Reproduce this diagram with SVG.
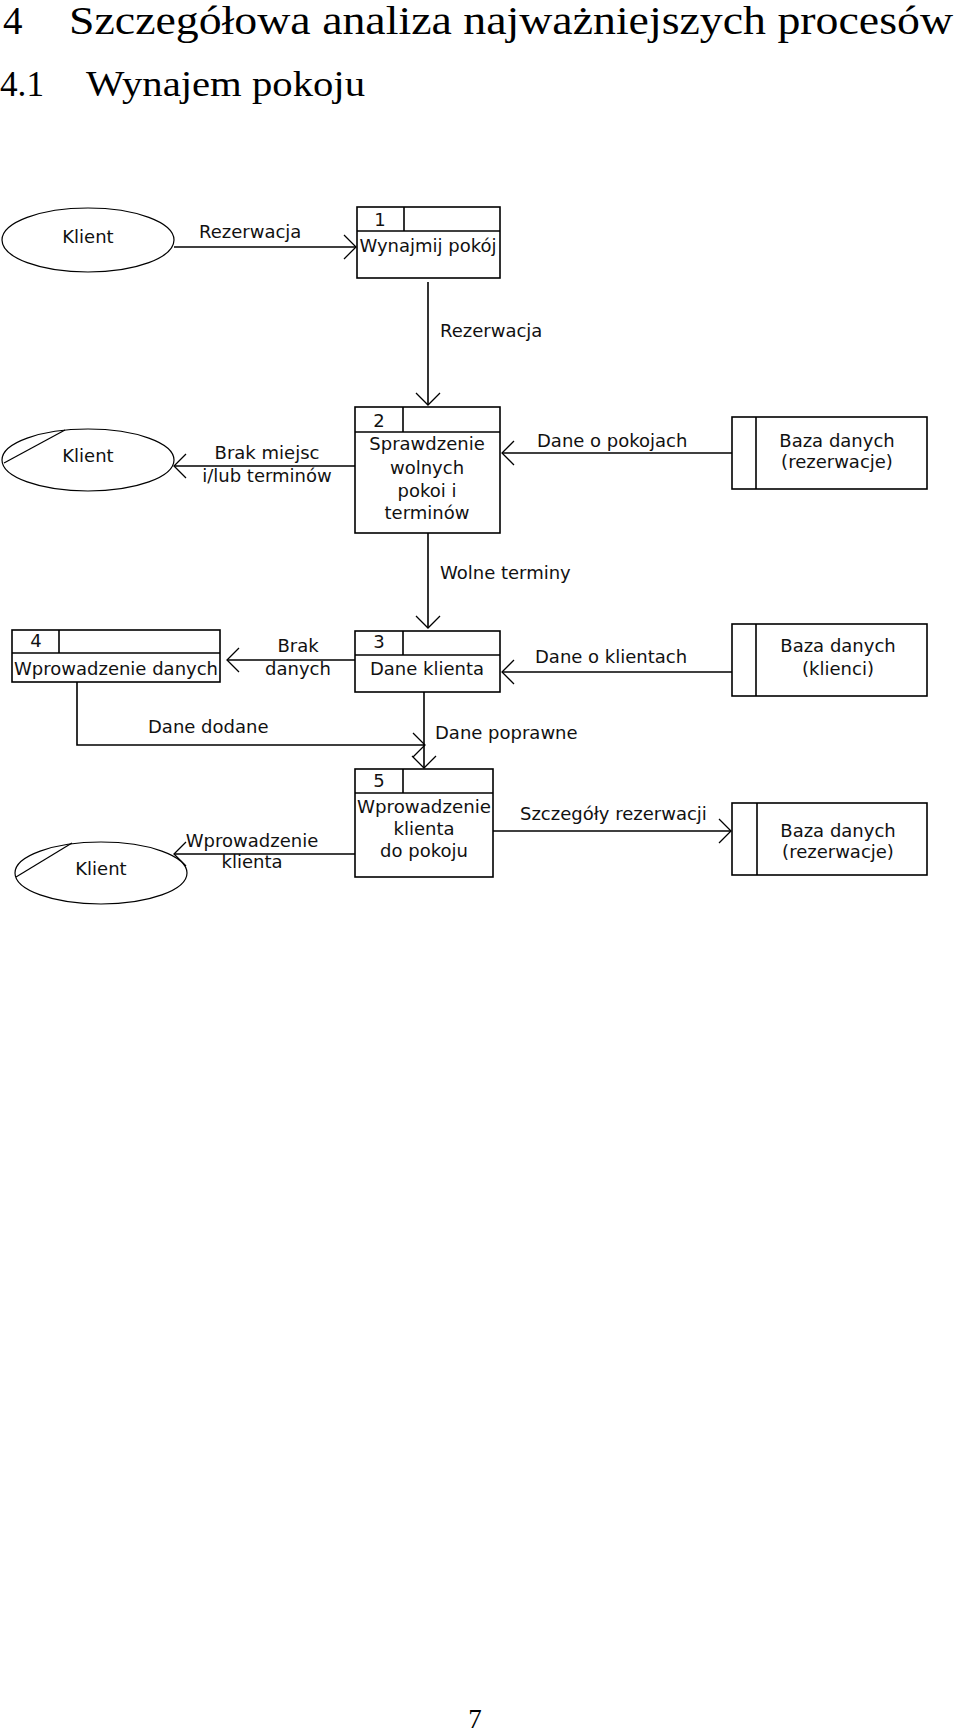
<svg xmlns="http://www.w3.org/2000/svg" width="960" height="1734" viewBox="0 0 960 1734">
<style>
.h{font-family:"Liberation Serif","DejaVu Serif",serif;fill:#000}
.t{font-family:"DejaVu Sans","Liberation Sans",sans-serif;font-size:18px;fill:#111}
.c{text-anchor:middle}
.b{fill:#fff;stroke:#000;stroke-width:1.6}
.l{fill:none;stroke:#000;stroke-width:1.6}
.e{fill:#fff;stroke:#000;stroke-width:1.2}
.a{fill:none;stroke:#000;stroke-width:1.6;marker-end:url(#arr)}
</style>
<defs>
<marker id="arr" markerUnits="userSpaceOnUse" markerWidth="30" markerHeight="30" refX="15" refY="15" orient="auto" overflow="visible">
<path d="M3,3 L15,15 L3,27" fill="none" stroke="#000" stroke-width="1.3"/>
</marker>
</defs>
<rect width="960" height="1734" fill="#fff"/>
<text class="h" x="3" y="34" font-size="39">4</text>
<text class="h" x="69" y="34" font-size="39" textLength="884" lengthAdjust="spacingAndGlyphs">Szczegółowa analiza najważniejszych procesów</text>
<text class="h" x="0" y="96" font-size="35" textLength="44" lengthAdjust="spacingAndGlyphs">4.1</text>
<text class="h" x="86" y="96" font-size="35" textLength="279" lengthAdjust="spacingAndGlyphs">Wynajem pokoju</text>

<g id="connectors">
<line class="a" x1="174" y1="247" x2="356" y2="247"/>
<text class="t" x="199" y="238">Rezerwacja</text>
<line class="a" x1="428" y1="282" x2="428" y2="405"/>
<text class="t" x="440" y="337">Rezerwacja</text>
<line class="a" x1="355" y1="466" x2="174" y2="466"/>
<text class="t c" x="267" y="459">Brak miejsc</text>
<text class="t c" x="267" y="482">i/lub terminów</text>
<line class="a" x1="732" y1="453" x2="502" y2="453"/>
<text class="t" x="537" y="447">Dane o pokojach</text>
<line class="a" x1="428" y1="533" x2="428" y2="628"/>
<text class="t" x="440" y="579">Wolne terminy</text>
<line class="a" x1="355" y1="660" x2="227" y2="660"/>
<text class="t c" x="298" y="652">Brak</text>
<text class="t c" x="298" y="675">danych</text>
<line class="a" x1="732" y1="672" x2="502" y2="672"/>
<text class="t" x="535" y="663">Dane o klientach</text>
<polyline class="a" points="77,682 77,745 425,745"/>
<text class="t" x="148" y="733">Dane dodane</text>
<line class="a" x1="424" y1="692" x2="424" y2="768"/>
<text class="t" x="435" y="739">Dane poprawne</text>
<line class="a" x1="355" y1="854" x2="174" y2="854"/>
<text class="t c" x="252" y="847">Wprowadzenie</text>
<text class="t c" x="252" y="868">klienta</text>
<line class="a" x1="493" y1="831" x2="731" y2="831"/>
<text class="t" x="520" y="820">Szczegóły rezerwacji</text>
</g>

<g id="klient1">
<ellipse class="e" cx="88" cy="240" rx="86" ry="32"/>
<text class="t c" x="88" y="243">Klient</text>
</g>
<g id="klient2">
<ellipse class="e" cx="88" cy="460" rx="86" ry="31"/>
<line class="e" x1="4" y1="463" x2="65" y2="430"/>
<text class="t c" x="88" y="462">Klient</text>
</g>
<g id="klient3">
<ellipse class="e" cx="101" cy="873" rx="86" ry="31"/>
<line class="e" x1="16" y1="877" x2="72" y2="843"/>
<text class="t c" x="101" y="875">Klient</text>
</g>

<g id="p1">
<rect class="b" x="357" y="207" width="143" height="71"/>
<line class="l" x1="357" y1="231" x2="500" y2="231"/>
<line class="l" x1="404" y1="207" x2="404" y2="231"/>
<text class="t c" x="380" y="226">1</text>
<text class="t c" x="428" y="252">Wynajmij pokój</text>
</g>
<g id="p2">
<rect class="b" x="355" y="407" width="145" height="126"/>
<line class="l" x1="355" y1="432" x2="500" y2="432"/>
<line class="l" x1="403" y1="407" x2="403" y2="432"/>
<text class="t c" x="379" y="427">2</text>
<text class="t c" x="427" y="450">Sprawdzenie</text>
<text class="t c" x="427" y="474">wolnych</text>
<text class="t c" x="427" y="497">pokoi i</text>
<text class="t c" x="427" y="519">terminów</text>
</g>
<g id="p3">
<rect class="b" x="355" y="631" width="145" height="61"/>
<line class="l" x1="355" y1="655" x2="500" y2="655"/>
<line class="l" x1="403" y1="631" x2="403" y2="655"/>
<text class="t c" x="379" y="648">3</text>
<text class="t c" x="427" y="675">Dane klienta</text>
</g>
<g id="p4">
<rect class="b" x="12" y="630" width="208" height="52"/>
<line class="l" x1="12" y1="653" x2="220" y2="653"/>
<line class="l" x1="59" y1="630" x2="59" y2="653"/>
<text class="t c" x="36" y="647">4</text>
<text class="t c" x="116" y="675" textLength="204" lengthAdjust="spacingAndGlyphs">Wprowadzenie danych</text>
</g>
<g id="p5">
<rect class="b" x="355" y="769" width="138" height="108"/>
<line class="l" x1="355" y1="793" x2="493" y2="793"/>
<line class="l" x1="403" y1="769" x2="403" y2="793"/>
<text class="t c" x="379" y="787">5</text>
<text class="t c" x="424" y="813" textLength="134" lengthAdjust="spacingAndGlyphs">Wprowadzenie</text>
<text class="t c" x="424" y="835">klienta</text>
<text class="t c" x="424" y="857">do pokoju</text>
</g>

<g id="db1">
<rect class="b" x="732" y="417" width="195" height="72"/>
<line class="l" x1="756" y1="417" x2="756" y2="489"/>
<text class="t c" x="837" y="447">Baza danych</text>
<text class="t c" x="837" y="468">(rezerwacje)</text>
</g>
<g id="db2">
<rect class="b" x="732" y="624" width="195" height="72"/>
<line class="l" x1="756" y1="624" x2="756" y2="696"/>
<text class="t c" x="838" y="652">Baza danych</text>
<text class="t c" x="838" y="675">(klienci)</text>
</g>
<g id="db3">
<rect class="b" x="732" y="803" width="195" height="72"/>
<line class="l" x1="757" y1="803" x2="757" y2="875"/>
<text class="t c" x="838" y="837">Baza danych</text>
<text class="t c" x="838" y="858">(rezerwacje)</text>
</g>

<text class="h c" x="475" y="1728" font-size="27">7</text>
</svg>
